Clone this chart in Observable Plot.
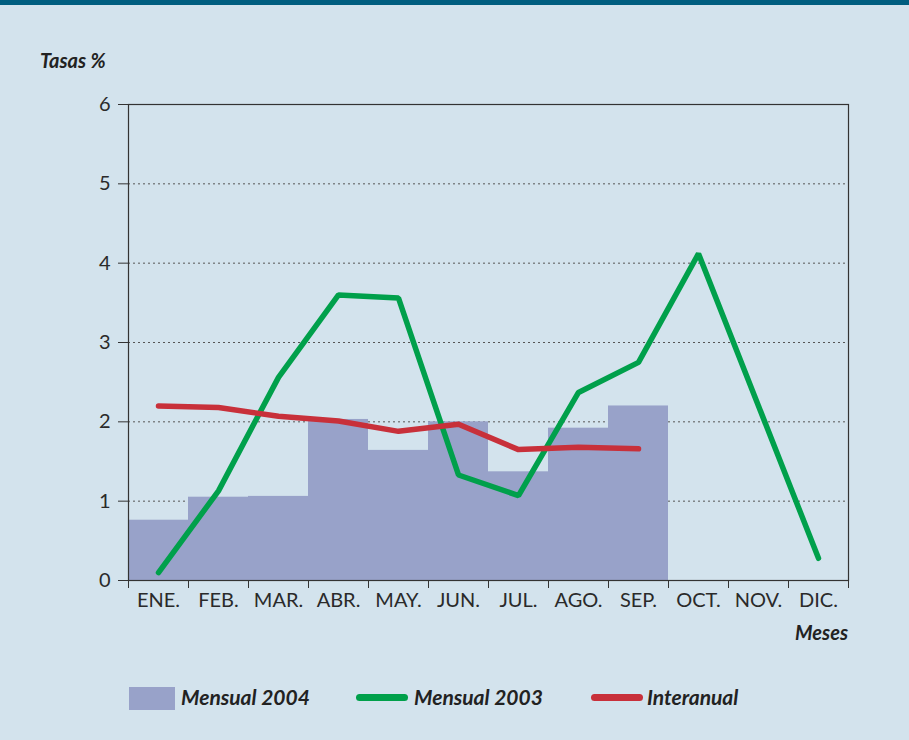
<!DOCTYPE html>
<html>
<head>
<meta charset="utf-8">
<script src="https://cdn.jsdelivr.net/npm/d3@7"></script>
<script src="https://cdn.jsdelivr.net/npm/@observablehq/plot@0.6"></script>
<style>
  html, body { margin: 0; padding: 0; }
  body { width: 909px; height: 740px; background: #d3e3ed; font-family: Lato, "Open Sans", sans-serif; }
  #wrap { position: relative; width: 909px; height: 740px; background: #d3e3ed; overflow: hidden; }
  #topband { position: absolute; left: 0; top: 0; width: 909px; height: 5px; background: #005e80; }
  #chart { position: absolute; left: 0; top: 0; }
  .lbl { position: absolute; font-weight: bold; font-style: italic; font-size: 20px; color: #222; white-space: nowrap; line-height: 24px; }
  .leg { position: absolute; font-weight: bold; font-style: italic; font-size: 21px; color: #222; white-space: nowrap; line-height: 24px; }
</style>
</head>
<body>
<div id="wrap">
  <div id="topband"></div>
  <div id="chart"></div>
  <div class="lbl" style="left:40px; top:48px;">Tasas %</div>
  <div class="lbl" style="right:61px; top:620px;">Meses</div>
  <div id="legend"></div>
</div>
<script>
const months = ["ENE.","FEB.","MAR.","ABR.","MAY.","JUN.","JUL.","AGO.","SEP.","OCT.","NOV.","DIC."];
const mensual2004 = [0.76, 1.05, 1.06, 2.03, 1.64, 2.00, 1.37, 1.92, 2.20];
const mensual2003 = [0.10, 1.13, 2.56, 3.60, 3.56, 1.33, 1.07, 2.37, 2.75, 4.12, 2.20, 0.28];
const interanual = [2.20, 2.18, 2.07, 2.01, 1.88, 1.97, 1.65, 1.68, 1.66];
const yTicks = [0, 1, 2, 3, 4, 5, 6];
const gridTicks = [1, 2, 3, 4, 5];

const colors = {bar: "#98a2c9", green: "#00a04b", red: "#c8303a"};

const chart = Plot.plot({
  width: 909,
  height: 660,
  marginTop: 104,
  marginBottom: 80,
  marginLeft: 128,
  marginRight: 61,
  style: {background: "transparent", fontFamily: "Lato, 'Open Sans', sans-serif", fontSize: "20px", color: "#2a2a2a", overflow: "visible"},
  x: {domain: [0, 12], axis: null},
  y: {domain: [0, 6], axis: null},
  marks: [
    Plot.ruleY(gridTicks, {stroke: "#555", strokeDasharray: "2,3", strokeWidth: 1}),
    Plot.rect(mensual2004, {x1: (d, i) => i, x2: (d, i) => i + 1, y1: 0, y2: d => d, fill: colors.bar}),
    Plot.line(mensual2003, {x: (d, i) => i + 0.5, y: d => d, stroke: colors.green, strokeWidth: 5.5, strokeLinejoin: "miter", strokeLinecap: "round"}),
    Plot.line(interanual, {x: (d, i) => i + 0.5, y: d => d, stroke: colors.red, strokeWidth: 5.5, strokeLinejoin: "round", strokeLinecap: "round"}),
    Plot.frame({stroke: "#333", strokeWidth: 1.2}),
    Plot.axisY(yTicks, {tickSize: 10, tickPadding: 8, tickFormat: d => String(d), label: null, stroke: "#333"}),
    Plot.axisX(d3.range(13), {tickSize: 8, tickFormat: () => "", label: null, stroke: "#333"}),
    Plot.axisX(months.map((m, i) => i + 0.5), {tickSize: 0, tickPadding: 12, tickFormat: v => months[Math.floor(v)], label: null})
  ]
});
document.getElementById("chart").appendChild(chart);

// Legend
const legend = document.getElementById("legend");
const items = [
  {type: "rect", color: colors.bar, label: "Mensual 2004", sx: 129, tx: 181},
  {type: "line", color: colors.green, label: "Mensual 2003", sx: 356, tx: 414},
  {type: "line", color: colors.red, label: "Interanual", sx: 591, tx: 647}
];
for (const it of items) {
  const sw = document.createElement("div");
  sw.style.position = "absolute";
  if (it.type === "rect") {
    sw.style.left = it.sx + "px"; sw.style.top = "687px";
    sw.style.width = "46px"; sw.style.height = "23px";
    sw.style.background = it.color;
  } else {
    sw.style.left = it.sx + "px"; sw.style.top = "694px";
    sw.style.width = "52px"; sw.style.height = "7px";
    sw.style.borderRadius = "4px";
    sw.style.background = it.color;
  }
  legend.appendChild(sw);
  const t = document.createElement("div");
  t.className = "leg";
  t.style.left = it.tx + "px";
  t.style.top = "685px";
  t.textContent = it.label;
  legend.appendChild(t);
}
</script>
</body>
</html>
